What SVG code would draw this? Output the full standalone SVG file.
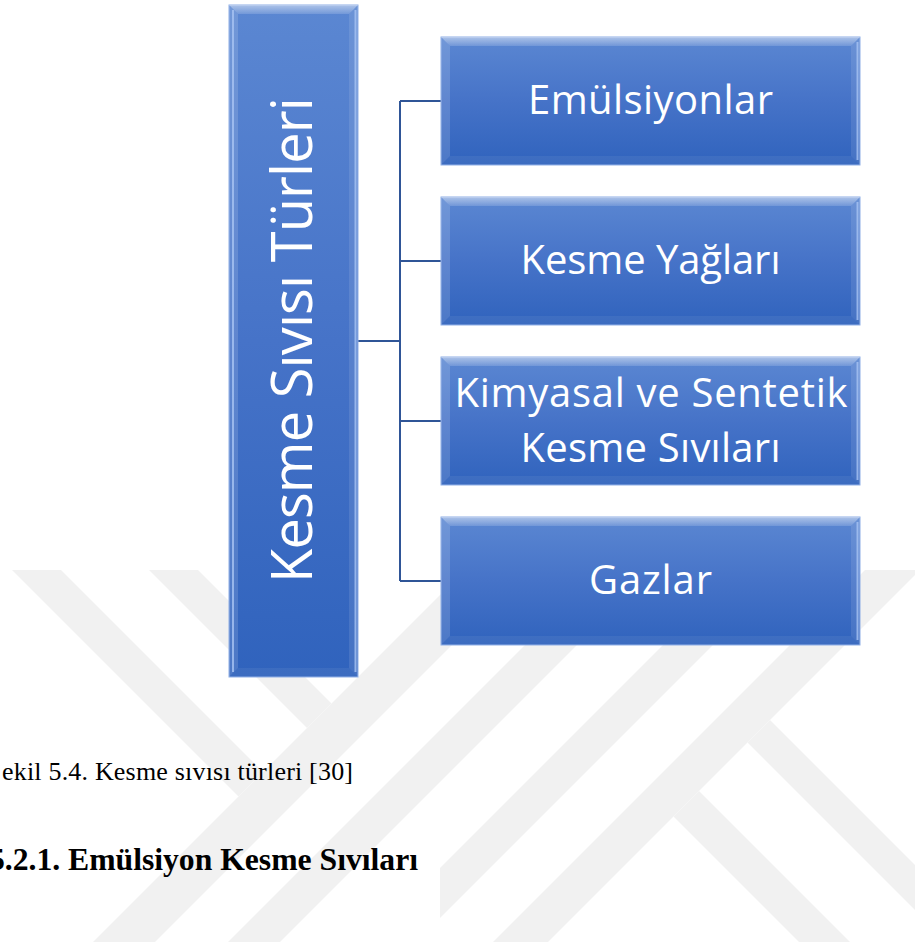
<svg xmlns="http://www.w3.org/2000/svg" width="915" height="945" viewBox="0 0 915 945">
<style>
.wm{fill:#f1f1f1}
.box{stroke:#8eaee6;stroke-width:1}
.bt{fill:url(#bvTop)}
.bl{fill:#ffffff;fill-opacity:0.14}
.br{fill:#ffffff;fill-opacity:0.10}
.bb{fill:#ffffff;fill-opacity:0.06}
.hl{stroke:#a9c4f3;stroke-width:2;fill:none;stroke-opacity:0.8}
.lbl{font-family:"Open Sans","Noto Sans","DejaVu Sans",sans-serif;fill:#ffffff;text-anchor:middle}
.con{stroke:#2f5597;stroke-width:2;fill:none}
.cap{font-family:"Liberation Serif","Times New Roman",serif;fill:#000000}
</style>
<defs>
<linearGradient id="fillG" x1="0" y1="0" x2="0" y2="1">
<stop offset="0" stop-color="#5b87d2"/>
<stop offset="0.5" stop-color="#4673c8"/>
<stop offset="1" stop-color="#3063bd"/>
</linearGradient>
<linearGradient id="bvTop" x1="0" y1="0" x2="0" y2="1">
<stop offset="0" stop-color="#ffffff" stop-opacity="0.5"/>
<stop offset="1" stop-color="#ffffff" stop-opacity="0.15"/>
</linearGradient>
</defs>
<rect width="915" height="945" fill="#ffffff"/>
<g id="watermark">
<polygon class="wm" points="465,570 527,570 155,942 93,942"/>
<polygon class="wm" points="600,570 652,570 280,942 228,942"/>
<polygon class="wm" points="738,570 788,570 440,918 440,868"/>
<polygon class="wm" points="865,570 920,570 548,942 493,942"/>
<polygon class="wm" points="12,570 61,570 263,772 238.5,796.5"/>
<polygon class="wm" points="149,570 198,570 331.5,703.5 307,728"/>
<polygon class="wm" points="699,791 850,942 799,942 673.5,816.5"/>
<polygon class="wm" points="770,720 915,865 915,910 747.5,742.5"/>
</g>
<g id="connectors">
<path class="con" d="M358,341 H400 M400,101 V581 M400,101 H441 M400,261 H441 M400,421 H441 M400,581 H441"/>
</g>
<g id="root">
<rect class="box" x="229" y="5" width="129" height="672" fill="url(#fillG)"/>
<polygon class="bt" points="229,5 358,5 349,14 238,14"/>
<polygon class="bl" points="229,5 238,14 238,668 229,677"/>
<polygon class="br" points="358,5 358,677 349,668 349,14"/>
<polygon class="bb" points="229,677 358,677 349,668 238,668"/>
<line class="hl" x1="233" y1="10" x2="233" y2="672"/>
<line class="hl" x1="355.5" y1="10" x2="355.5" y2="672"/>
<text class="lbl" font-size="56" textLength="486" transform="translate(312,340) rotate(-90)" x="0" y="0">Kesme Sıvısı Türleri</text>
</g>
<g id="n1">
<rect class="box" x="441" y="37" width="419" height="128" fill="url(#fillG)"/>
<polygon class="bt" points="441,37 860,37 851,46 450,46"/>
<polygon class="bl" points="441,37 450,46 450,156 441,165"/>
<polygon class="br" points="860,37 860,165 851,156 851,46"/>
<polygon class="bb" points="441,165 860,165 851,156 450,156"/>
<line class="hl" x1="857.5" y1="42" x2="857.5" y2="160"/>
<text class="lbl" font-size="40" x="650.5" y="114" textLength="245">Emülsiyonlar</text>
</g>
<g id="n2">
<rect class="box" x="441" y="197" width="419" height="128" fill="url(#fillG)"/>
<polygon class="bt" points="441,197 860,197 851,206 450,206"/>
<polygon class="bl" points="441,197 450,206 450,316 441,325"/>
<polygon class="br" points="860,197 860,325 851,316 851,206"/>
<polygon class="bb" points="441,325 860,325 851,316 450,316"/>
<line class="hl" x1="857.5" y1="202" x2="857.5" y2="320"/>
<text class="lbl" font-size="40" x="650.5" y="274" textLength="260">Kesme Yağları</text>
</g>
<g id="n3">
<rect class="box" x="441" y="357" width="419" height="128" fill="url(#fillG)"/>
<polygon class="bt" points="441,357 860,357 851,366 450,366"/>
<polygon class="bl" points="441,357 450,366 450,476 441,485"/>
<polygon class="br" points="860,357 860,485 851,476 851,366"/>
<polygon class="bb" points="441,485 860,485 851,476 450,476"/>
<line class="hl" x1="857.5" y1="362" x2="857.5" y2="480"/>
<text class="lbl" font-size="40" x="651" y="407" textLength="393">Kimyasal ve Sentetik</text>
<text class="lbl" font-size="40" x="650.5" y="462" textLength="260">Kesme Sıvıları</text>
</g>
<g id="n4">
<rect class="box" x="441" y="517" width="419" height="128" fill="url(#fillG)"/>
<polygon class="bt" points="441,517 860,517 851,526 450,526"/>
<polygon class="bl" points="441,517 450,526 450,636 441,645"/>
<polygon class="br" points="860,517 860,645 851,636 851,526"/>
<polygon class="bb" points="441,645 860,645 851,636 450,636"/>
<line class="hl" x1="857.5" y1="522" x2="857.5" y2="640"/>
<text class="lbl" font-size="40" x="650.5" y="594" textLength="123">Gazlar</text>
</g>
<g id="caption">
<text class="cap" font-size="26" x="2" y="780" textLength="351">ekil 5.4. Kesme sıvısı türleri [30]</text>
<text class="cap" font-size="31.7" font-weight="bold" x="-11" y="870" textLength="429">5.2.1. Emülsiyon Kesme Sıvıları</text>
</g>
</svg>
